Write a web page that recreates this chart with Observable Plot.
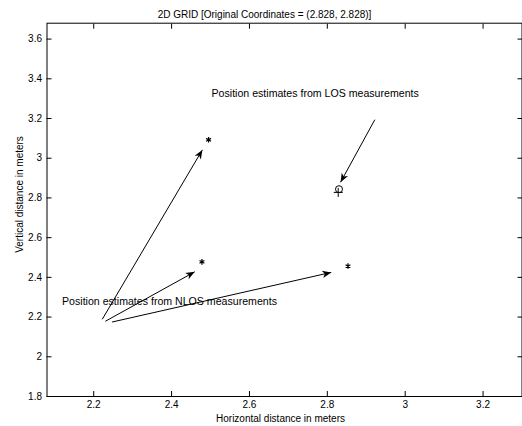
<!DOCTYPE html>
<html>
<head>
<meta charset="utf-8">
<script src="https://cdn.jsdelivr.net/npm/d3@7"></script>
<script src="https://cdn.jsdelivr.net/npm/@observablehq/plot@0.6"></script>
<style>
  html, body { margin: 0; padding: 0; background: #fff; }
  #chart svg { display: block; }
</style>
</head>
<body>
<div id="chart"></div>
<script>
const titleText = "2D GRID [Original Coordinates = (2.828, 2.828)]";
const xLabel = "Horizontal distance in meters";
const yLabel = "Vertical distance in meters";

const xTicks = [2.2, 2.4, 2.6, 2.8, 3, 3.2];
const yTicks = [1.8, 2, 2.2, 2.4, 2.6, 2.8, 3, 3.2, 3.4, 3.6];

// NLOS position estimates (stars)
const nlosX = [2.495, 2.478, 2.853];
const nlosY = [3.093, 2.478, 2.457];
// LOS estimate (circle)
const losX = [2.830];
const losY = [2.844];
// original coordinates (plus)
const trueX = [2.828];
const trueY = [2.828];

// annotation arrows
const arrowX1 = [2.922, 2.222, 2.230, 2.247];
const arrowY1 = [3.194, 2.189, 2.179, 2.175];
const arrowX2 = [2.834, 2.479, 2.4595, 2.810];
const arrowY2 = [2.879, 3.042, 2.428, 2.425];

// annotation texts
const noteText = ["Position estimates from LOS measurements", "Position estimates from NLOS measurements"];
const noteX = [2.5026, 2.1186];
const noteY = [3.325, 2.28];

const nlos = nlosX.map((x, i) => ({x, y: nlosY[i]}));
const los = losX.map((x, i) => ({x, y: losY[i]}));
const truth = trueX.map((x, i) => ({x, y: trueY[i]}));
const arrows = arrowX1.map((x1, i) => ({x1, y1: arrowY1[i], x2: arrowX2[i], y2: arrowY2[i]}));
const notes = noteText.map((t, i) => ({t, x: noteX[i], y: noteY[i]}));

function vback(color, context) {
  const ns = "http://www.w3.org/2000/svg";
  const m = context.document.createElementNS(ns, "marker");
  m.setAttribute("viewBox", "-10 -5 12 10");
  m.setAttribute("markerWidth", 12);
  m.setAttribute("markerHeight", 10);
  m.setAttribute("markerUnits", "userSpaceOnUse");
  m.setAttribute("orient", "auto");
  m.setAttribute("refX", 0);
  m.setAttribute("refY", 0);
  const p = context.document.createElementNS(ns, "path");
  p.setAttribute("d", "M0,0L-9,-3.6L-6.5,0L-9,3.6Z");
  p.setAttribute("fill", color);
  p.setAttribute("stroke", "none");
  m.appendChild(p);
  return m;
}

const font = "Liberation Sans, Arial, Helvetica, sans-serif";

const chart = Plot.plot({
  width: 522,
  height: 426,
  marginLeft: 46.5,
  marginRight: 0.5,
  marginTop: 22.7,
  marginBottom: 30,
  style: {fontFamily: font, fontSize: "10px", color: "black", background: "white"},
  x: {domain: [2.08, 3.3]},
  y: {domain: [1.8, 3.68]},
  marks: [
    Plot.axisX({anchor: "bottom", ticks: xTicks, tickSize: -5, tickPadding: 9, tickFormat: d => String(d), label: null, fontSize: 10}),
    Plot.axisX({anchor: "top", ticks: xTicks, tickSize: -5, tickFormat: () => "", label: null}),
    Plot.axisY({anchor: "left", ticks: yTicks, tickSize: -5, tickPadding: 10, tickFormat: d => String(d), label: null, fontSize: 10}),
    Plot.axisY({anchor: "right", ticks: yTicks, tickSize: -5, tickFormat: () => "", label: null}),
    Plot.frame({stroke: "black", strokeWidth: 1}),
    Plot.text([titleText], {frameAnchor: "top", dx: -20, dy: -12, fontSize: 10, fill: "black"}),
    Plot.text([xLabel], {frameAnchor: "bottom", dx: -4, dy: 25, fontSize: 10, fill: "black"}),
    Plot.text([yLabel], {frameAnchor: "left", rotate: -90, dx: -27, dy: 43, fontSize: 10, fill: "black"}),
    Plot.link(arrows, {x1: "x1", y1: "y1", x2: "x2", y2: "y2", stroke: "black", strokeWidth: 1, markerEnd: vback}),
    Plot.dot(nlos, {x: "x", y: "y", symbol: "asterisk", r: 2.6, stroke: "black", strokeWidth: 1.2}),
    Plot.dot(los, {x: "x", y: "y", symbol: "circle", r: 3.5, stroke: "black", fill: "none", strokeWidth: 1}),
    Plot.dot(truth, {x: "x", y: "y", symbol: "plus", r: 3, stroke: "black", strokeWidth: 1}),
    Plot.text(notes, {x: "x", y: "y", text: "t", textAnchor: "start", fontSize: 10.6, fill: "black"})
  ]
});
document.getElementById("chart").appendChild(chart);
</script>
</body>
</html>
